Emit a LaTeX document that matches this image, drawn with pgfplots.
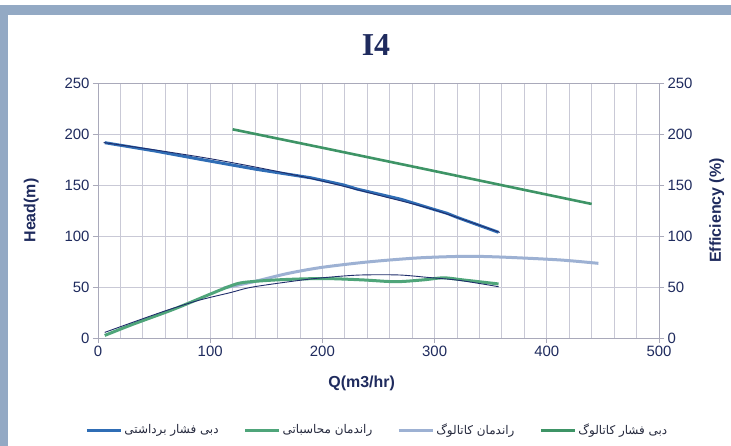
\documentclass[border=0pt]{standalone}
\usepackage{pgfplots}
\pgfplotsset{compat=1.18}
\usepackage{fontspec}
\setmainfont{Liberation Sans}
\newfontfamily\titlefont{Liberation Serif}
\newfontfamily\arabicfont[Script=Arabic]{DejaVu Sans}
\TeXXeTstate=1

\definecolor{frameblue}{HTML}{93A9C4}
\definecolor{gridgray}{HTML}{C9C9D6}
\definecolor{axisgray}{HTML}{A9A9BA}
\definecolor{navytext}{HTML}{1F2B5E}
\definecolor{legendtext}{HTML}{262A3E}
\definecolor{headblue}{HTML}{2F6DB5}
\definecolor{navythin}{HTML}{1F2D6B}
\definecolor{effgreen}{HTML}{4FA57A}
\definecolor{catgreen}{HTML}{3E9466}
\definecolor{catlight}{HTML}{9DB1D3}

% measured head
\pgfplotstableread{
q h
6 191.5
50 183.5
91 175.2
141 165.4
190 157
219 150
231 146
270 136
299 126.2
311 122.3
320 118.3
357 103.6
}\headmeas
% head trend line
\pgfplotstableread{
q h
5 191.6
50 184.5
100 175.8
150 165.5
200 153.8
250 140
300 125.5
358 103.5
}\headtrend
% catalogue head
\pgfplotstableread{
q h
120 204.6
200 186.5
281 168
360 149.8
440 131.4
}\headcat
% catalogue efficiency
\pgfplotstableread{
q e
112 49
138 55
168 63
198 69
240 74.5
285 78.5
322 80
340 80
367 79
412 76.5
446 73.2
}\effcat
% computed efficiency
\pgfplotstableread{
q e
6 2.5
30 13
67 28
100 43
118 51
130 54.5
160 57
200 58.3
235 57
265 55.2
290 57
308 59
325 57
357 53
}\effcalc
% efficiency trend line
\pgfplotstableread{
q e
6 5.5
30 15
61 27
90 37
118 44.5
138 50
183 57
210 60
235 61.8
268 61.8
293 59.5
322 56.5
357 50.3
}\efftrend

\begin{document}
\begin{tikzpicture}
\path[use as bounding box] (0,0) rectangle (731bp,446bp);
\fill[white] (0,0) rectangle (731bp,446bp);
\fill[frameblue] (0,0) rectangle (8bp,441bp);
\fill[frameblue] (0,431bp) rectangle (731bp,441bp);
\node[font=\titlefont\bfseries\fontsize{32}{36}\selectfont, text=navytext] at (376bp,401bp) {I4};

\begin{axis}[
  scale only axis, width=561bp, height=255bp,
  at={(98bp,108bp)}, anchor=south west,
  xmin=0, xmax=500, ymin=0, ymax=250,
  xtick={0,100,...,500}, minor xtick={20,40,...,480}, ytick={0,50,...,250},
  grid=both,
  major grid style={draw=gridgray, line width=0.9bp},
  minor grid style={draw=gridgray, line width=0.9bp},
  axis line style={draw=axisgray, line width=0.9bp},
  tick style={draw=axisgray, line width=0.9bp},
  major tick length=5bp, minor tick length=0pt,
  tick align=outside, xtick pos=bottom, ytick pos=left,
  ticklabel style={font=\fontsize{15}{18}\selectfont, text=navytext},
  /pgf/number format/assume math mode=true,
  xlabel={Q(m3/hr)}, ylabel={Head(m)},
  label style={font=\bfseries\fontsize{16}{19}\selectfont, text=navytext},
  xlabel style={at={(axis description cs:0.47,-0.176)}, anchor=center},
  ylabel style={at={(axis description cs:-0.119,0.5)}, anchor=center},
  legend columns=4,
  legend style={at={(axis description cs:0.498,-0.361)}, anchor=center,
    draw=none, fill=none, text=legendtext,
    font=\arabicfont\fontsize{12}{14}\selectfont,
    /tikz/every even column/.append style={column sep=23bp},
    nodes={inner sep=2bp}},
  legend image code/.code={\draw[#1] (0bp,0bp) -- (34bp,0bp);},
]
\addplot[catgreen, line width=2.6bp, forget plot] table[x=q,y=h] {\headcat};
\addplot[catlight, line width=3bp, smooth, forget plot] table[x=q,y=e] {\effcat};
\addplot[effgreen, line width=3bp, smooth, forget plot] table[x=q,y=e] {\effcalc};
\addplot[headblue, line width=3bp, line join=round, forget plot] table[x=q,y=h] {\headmeas};
\addplot[navythin, line width=0.9bp, smooth, forget plot] table[x=q,y=h] {\headtrend};
\addplot[navythin, line width=0.9bp, smooth, forget plot] table[x=q,y=e] {\efftrend};

\addlegendimage{headblue, line width=3bp}
\addlegendentry{\beginR دبی فشار برداشتی\endR}
\addlegendimage{effgreen, line width=3bp}
\addlegendentry{\beginR راندمان محاسباتی\endR}
\addlegendimage{catlight, line width=3bp}
\addlegendentry{\beginR راندمان کاتالوگ\endR}
\addlegendimage{catgreen, line width=3bp}
\addlegendentry{\beginR دبی فشار کاتالوگ\endR}
\end{axis}

\begin{axis}[
  scale only axis, width=561bp, height=255bp,
  at={(98bp,108bp)}, anchor=south west,
  xmin=0, xmax=500, ymin=0, ymax=250,
  axis y line*=right, axis x line=none,
  ytick={0,50,...,250},
  axis line style={draw=axisgray, line width=0.9bp},
  tick style={draw=axisgray, line width=0.9bp},
  major tick length=5bp, tick align=outside,
  ticklabel style={font=\fontsize{15}{18}\selectfont, text=navytext},
  /pgf/number format/assume math mode=true,
  ylabel={Efficiency (\%)},
  label style={font=\bfseries\fontsize{16}{19}\selectfont, text=navytext},
  ylabel style={at={(axis description cs:1.103,0.5)}, anchor=center, rotate=0},
]
\addplot[draw=none, forget plot] coordinates {(0,0)};
\end{axis}
\end{tikzpicture}
\end{document}
